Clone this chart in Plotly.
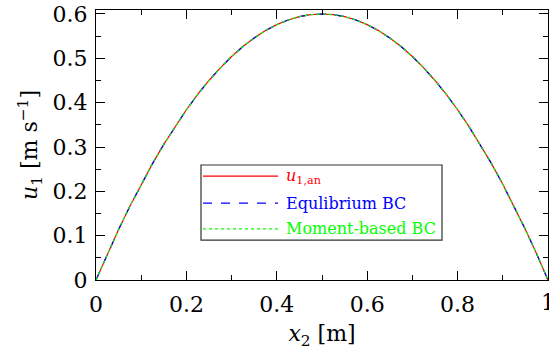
import plotly.graph_objects as go

# Data
x2 = [0, 0.025, 0.05, 0.075, 0.1, 0.125, 0.15, 0.175, 0.2, 0.225, 0.25, 0.275, 0.3, 0.325, 0.35,
      0.375, 0.4, 0.425, 0.45, 0.475, 0.5, 0.525, 0.55, 0.575, 0.6, 0.625, 0.65, 0.675, 0.7,
      0.725, 0.75, 0.775, 0.8, 0.825, 0.85, 0.875, 0.9, 0.925, 0.95, 0.975, 1.0]
u_an = [0, 0.0585, 0.114, 0.1665, 0.216, 0.2625, 0.306, 0.3465, 0.384, 0.4185, 0.45, 0.4785,
        0.504, 0.5265, 0.546, 0.5625, 0.576, 0.5865, 0.594, 0.5985, 0.6, 0.5985, 0.594, 0.5865,
        0.576, 0.5625, 0.546, 0.5265, 0.504, 0.4785, 0.45, 0.4185, 0.384, 0.3465, 0.306, 0.2625,
        0.216, 0.1665, 0.114, 0.0585, 0]
u_eq = list(u_an)
u_mom = list(u_an)

x_ticks = [0, 0.2, 0.4, 0.6, 0.8, 1]
x_ticklabels = ["0", "0.2", "0.4", "0.6", "0.8", "1"]
y_ticks = [0, 0.1, 0.2, 0.3, 0.4, 0.5, 0.6]
y_ticklabels = ["0", "0.1", "0.2", "0.3", "0.4", "0.5", "0.6"]

legend_names = ["<i>u</i><sub>1,an</sub>", "Equlibrium BC", "Moment-based BC"]
colors = ["#ff0000", "#0000ff", "#00ff00"]
dashes = ["solid", "dash", "dot"]

FONT = "DejaVu Serif, Liberation Serif, serif"
TS = 22

fig = go.Figure()
for y, c, d in zip([u_an, u_eq, u_mom], colors, dashes):
    fig.add_trace(go.Scatter(x=x2, y=y, mode="lines", line=dict(color=c, width=1.2, dash=d),
                             showlegend=False, hoverinfo="skip"))

axis_common = dict(showline=True, linecolor="black", linewidth=1.2, mirror="ticks",
                   ticks="inside", ticklen=9, tickcolor="black", tickwidth=1.2,
                   showgrid=False, zeroline=False,
                   tickfont=dict(family=FONT, size=TS, color="black"))

fig.update_xaxes(range=[0, 1], tickvals=x_ticks[:-1], ticktext=x_ticklabels[:-1], ticklabelstandoff=4,
                 minor=dict(dtick=0.1, ticks="inside", ticklen=5, tickcolor="black", tickwidth=1.2, showgrid=False),
                 title=dict(text="<i>x</i><sub>2</sub> [m]", font=dict(family=FONT, size=TS, color="black"), standoff=10),
                 **axis_common)
fig.update_yaxes(range=[0, 0.609], tickvals=y_ticks, ticktext=y_ticklabels, ticklabelstandoff=3,
                 minor=dict(dtick=0.05, ticks="inside", ticklen=5, tickcolor="black", tickwidth=1.2, showgrid=False),
                 title=dict(text="<i>u</i><sub>1</sub> [m s<sup>−1</sup>]", font=dict(family=FONT, size=TS, color="black"), standoff=8),
                 **axis_common)

# last x tick label (clipped at the right page edge, as in the reference)
fig.add_annotation(x=x_ticks[-1], xref="x", y=0, yref="paper", yshift=-8, text=x_ticklabels[-1],
                   showarrow=False, xanchor="center", yanchor="top",
                   font=dict(family=FONT, size=TS, color="black"))

# custom legend
box = dict(x0=0.2323, x1=0.7655, y0=0.148, y1=0.426)
fig.add_shape(type="rect", xref="paper", yref="paper", **box,
              line=dict(color="#333333", width=1.2), fillcolor="white", layer="above")
rows = [0.385, 0.285, 0.189]
for name, c, d, ry in zip(legend_names, colors, dashes, rows):
    fig.add_shape(type="line", xref="paper", yref="paper", x0=0.2367, x1=0.4027, y0=ry, y1=ry,
                  line=dict(color=c, width=1.2, dash=d), layer="above")
    fig.add_annotation(xref="paper", yref="paper", x=0.416, y=ry, text=name, showarrow=False,
                       xanchor="left", yanchor="middle", font=dict(family=FONT, size=16, color=c))

fig.update_layout(width=549, height=352, margin=dict(l=96, r=1, t=10, b=72),
                  plot_bgcolor="white", paper_bgcolor="white")
fig.write_html("out.html")
